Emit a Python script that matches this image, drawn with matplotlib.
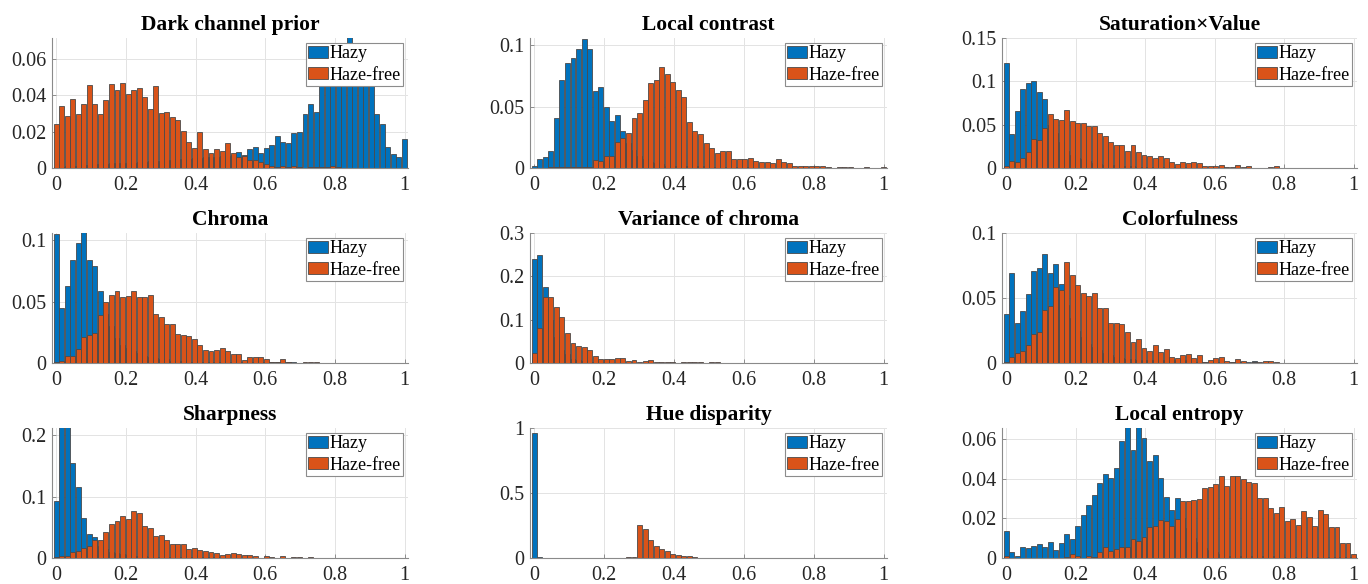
import numpy as np
import matplotlib
matplotlib.use('Agg')
from matplotlib import pyplot as plt
from matplotlib.ticker import FuncFormatter

plt.rcParams['font.family'] = ['Liberation Serif', 'DejaVu Serif']

blue = '#0072BD'
orange = '#D95319'

# normalised histograms (64 bins over [0, 1])
dcp_hazy = [
    0.0005, 0.0005, 0.001, 0.001, 0.001, 0.0015, 0.0015, 0.002, 0.002, 0.002, 0.0025, 0.0025, 0.003, 0.003, 0.003, 0.0035,
    0.0035, 0.004, 0.004, 0.004, 0.0045, 0.0045, 0.005, 0.005, 0.005, 0.0055, 0.0055, 0.006, 0.006, 0.006, 0.0065, 0.0065,
    0.007, 0.0087, 0.0072, 0.0105, 0.0115, 0.0085, 0.011, 0.0125, 0.0178, 0.0143, 0.014, 0.0195, 0.020, 0.030, 0.0355, 0.031,
    0.050, 0.055, 0.058, 0.062, 0.066, 0.072, 0.069, 0.064, 0.058, 0.050, 0.0295, 0.024, 0.0115, 0.0075, 0.006, 0.016,
]
dcp_free = [
    0.024, 0.034, 0.0285, 0.038, 0.030, 0.0355, 0.0455, 0.0355, 0.030, 0.0375, 0.046, 0.043, 0.047, 0.0405, 0.043, 0.044,
    0.039, 0.0325, 0.045, 0.0305, 0.031, 0.028, 0.0265, 0.0205, 0.0145, 0.011, 0.020, 0.0105, 0.0085, 0.0105, 0.0095, 0.014,
    0.008, 0.0062, 0.0068, 0.0045, 0.0045, 0.0035, 0.002, 0.001, 0.0008, 0.0012, 0.0005, 0.0012, 0.0003, 0.0, 0.0008, 0.0006,
    0.0004, 0.0008, 0.0012, 0.0003, 0.0002, 0.0002, 0.0002, 0.0002, 0.0002, 0.0002, 0.0002, 0.0002, 0.0002, 0.0002, 0.0002, 0.0002,
]

lc_hazy = [
    0.002, 0.007, 0.009, 0.014, 0.041, 0.072, 0.086, 0.090, 0.097, 0.105, 0.097, 0.063, 0.066, 0.050, 0.0385, 0.043,
    0.030, 0.020, 0.015, 0.010, 0.007, 0.005, 0.004, 0.003, 0.002, 0.002, 0.002, 0.002, 0.002, 0.002, 0.002, 0.002,
    0.001, 0.001, 0.001, 0.001, 0.001, 0.001, 0.001, 0.001, 0, 0, 0, 0, 0, 0, 0, 0,
    0, 0, 0, 0, 0, 0, 0, 0, 0, 0, 0, 0, 0, 0, 0, 0,
]
lc_free = [
    0.0003, 0.0003, 0.0003, 0.0005, 0.0005, 0.001, 0.001, 0.001, 0.001, 0.0012, 0.0012, 0.0065, 0.006, 0.0095, 0.0095, 0.021,
    0.0245, 0.0285, 0.041, 0.045, 0.0555, 0.069, 0.0715, 0.0825, 0.0765, 0.0705, 0.0635, 0.058, 0.0375, 0.030, 0.0275, 0.020,
    0.0165, 0.0125, 0.0135, 0.0135, 0.007, 0.0075, 0.0075, 0.0085, 0.006, 0.005, 0.005, 0.004, 0.0075, 0.0045, 0.004, 0.002,
    0.0015, 0.002, 0.0015, 0.0015, 0.0015, 0.0005, 0, 0.001, 0.001, 0.0005, 0, 0.0003, 0.0005, 0, 0, 0.0005,
]

sv_hazy = [
    0.121, 0.039, 0.066, 0.091, 0.098, 0.100, 0.088, 0.080, 0.050, 0.040, 0.030, 0.020, 0.015, 0.012, 0.010, 0.008,
    0.006, 0.005, 0.004, 0.003, 0.003, 0.002, 0.002, 0.002, 0.001, 0.001, 0.001, 0.001, 0.001, 0.001, 0.001, 0.001,
    0.001, 0.001, 0.0005, 0.0005, 0.0005, 0.0005, 0.0005, 0.0005, 0.0005, 0.0005, 0.0005, 0.0005, 0, 0, 0, 0,
    0, 0, 0, 0, 0, 0, 0, 0, 0, 0, 0, 0, 0, 0, 0, 0,
]
sv_free = [
    0.002, 0.008, 0.007, 0.011, 0.019, 0.033, 0.032, 0.046, 0.062, 0.056, 0.0555, 0.0665, 0.0545, 0.0525, 0.0525, 0.0485,
    0.0485, 0.040, 0.037, 0.030, 0.026, 0.026, 0.0195, 0.027, 0.0185, 0.015, 0.0135, 0.0115, 0.0135, 0.012, 0.0065, 0.0045,
    0.0065, 0.006, 0.0065, 0.0055, 0.0025, 0.0025, 0.0025, 0.0035, 0.001, 0.0015, 0.004, 0.0015, 0.002, 0.0005, 0, 0,
    0.0015, 0.002, 0, 0, 0, 0.0005, 0, 0.0005, 0, 0, 0, 0.0005, 0, 0, 0, 0,
]

chroma_hazy = [
    0.105, 0.045, 0.0625, 0.084, 0.0975, 0.110, 0.084, 0.0795, 0.059, 0.040, 0.030, 0.020, 0.015, 0.012, 0.010, 0.008,
    0.006, 0.005, 0.004, 0.003, 0.003, 0.002, 0.002, 0.002, 0.001, 0.001, 0.001, 0.001, 0.001, 0.001, 0.001, 0.001,
    0.001, 0.001, 0.0005, 0.0005, 0.0005, 0.0005, 0.0005, 0.0005, 0.0005, 0.0005, 0.0005, 0.0005, 0, 0, 0, 0,
    0, 0, 0, 0, 0, 0, 0, 0, 0, 0, 0, 0, 0, 0, 0, 0,
]
chroma_free = [
    0.001, 0.002, 0.006, 0.006, 0.0115, 0.0215, 0.0225, 0.0245, 0.0395, 0.050, 0.0555, 0.059, 0.0535, 0.0545, 0.059, 0.054,
    0.054, 0.0555, 0.040, 0.0375, 0.032, 0.032, 0.0235, 0.023, 0.022, 0.0195, 0.0145, 0.0105, 0.010, 0.0105, 0.0125, 0.0095,
    0.0075, 0.0075, 0.0025, 0.0045, 0.0045, 0.0045, 0.0035, 0.001, 0.001, 0.003, 0.0008, 0.0003, 0, 0.001, 0.0005, 0.0008,
    0.0003, 0.0003, 0.0003, 0, 0, 0, 0.0002, 0.0002, 0, 0, 0, 0, 0, 0.0002, 0, 0.0002,
]

varc_hazy = [
    0.239, 0.250, 0.175, 0.100, 0.060, 0.030, 0.020, 0.010, 0.006, 0.004, 0.003, 0.002, 0.001, 0.001, 0.001, 0.001,
    0, 0, 0, 0, 0, 0, 0, 0, 0, 0, 0, 0, 0, 0, 0, 0,
    0, 0, 0, 0, 0, 0, 0, 0, 0, 0, 0, 0, 0, 0, 0, 0,
    0, 0, 0, 0, 0, 0, 0, 0, 0, 0, 0, 0, 0, 0, 0, 0,
]
varc_free = [
    0.022, 0.080, 0.153, 0.153, 0.129, 0.106, 0.070, 0.046, 0.040, 0.036, 0.029, 0.016, 0.0095, 0.0085, 0.0085, 0.011,
    0.0125, 0.0055, 0.0065, 0.003, 0.005, 0.0065, 0.002, 0.003, 0.003, 0.002, 0, 0.003, 0.002, 0.002, 0.0015, 0,
    0.003, 0.003, 0.001, 0, 0, 0.0008, 0, 0, 0, 0, 0, 0, 0, 0, 0, 0,
    0, 0, 0, 0, 0, 0, 0, 0, 0, 0, 0, 0, 0, 0, 0, 0,
]

color_hazy = [
    0.038, 0.069, 0.031, 0.040, 0.053, 0.071, 0.073, 0.084, 0.069, 0.076, 0.061, 0.045, 0.035, 0.025, 0.020, 0.015,
    0.012, 0.010, 0.008, 0.006, 0.005, 0.004, 0.003, 0.003, 0.002, 0.002, 0.002, 0.002, 0.002, 0.002, 0.002, 0.002,
    0.002, 0.002, 0.001, 0.001, 0.001, 0.001, 0.001, 0.001, 0.001, 0.001, 0.001, 0.001, 0.0005, 0.0015, 0, 0,
    0, 0, 0, 0, 0, 0, 0, 0, 0, 0, 0, 0, 0, 0, 0, 0,
]
color_free = [
    0.0005, 0.0045, 0.008, 0.009, 0.0135, 0.0225, 0.0235, 0.041, 0.044, 0.0585, 0.056, 0.078, 0.068, 0.060, 0.054, 0.0515,
    0.054, 0.0425, 0.042, 0.0305, 0.031, 0.030, 0.0235, 0.016, 0.0185, 0.0115, 0.0095, 0.014, 0.0085, 0.011, 0.0045, 0.0035,
    0.0065, 0.007, 0.0035, 0.0065, 0.0005, 0.0025, 0.0035, 0.0045, 0.0015, 0.0005, 0.003, 0.0015, 0, 0.0005, 0.001, 0.0015,
    0.0015, 0.0005, 0.0003, 0.0003, 0.0003, 0.0003, 0.0003, 0.0003, 0.0003, 0, 0, 0, 0, 0, 0, 0.0003,
]

sharp_hazy = [
    0.0935, 0.240, 0.230, 0.155, 0.116, 0.066, 0.039, 0.035, 0.020, 0.015, 0.010, 0.008, 0.006, 0.005, 0.004, 0.003,
    0.003, 0.002, 0.002, 0.002, 0.001, 0.001, 0.001, 0.001, 0.001, 0.001, 0.001, 0.001, 0.001, 0.001, 0.0005, 0.0005,
    0.0005, 0.0005, 0.0005, 0.0005, 0.0005, 0.0005, 0.0005, 0.0005, 0, 0, 0, 0, 0, 0, 0, 0,
    0, 0, 0, 0, 0, 0, 0, 0, 0, 0, 0, 0, 0, 0, 0, 0,
]
sharp_free = [
    0.001, 0.003, 0.003, 0.009, 0.011, 0.017, 0.020, 0.029, 0.029, 0.043, 0.055, 0.061, 0.069, 0.063, 0.077, 0.073,
    0.053, 0.049, 0.036, 0.038, 0.030, 0.0235, 0.023, 0.023, 0.014, 0.0155, 0.0125, 0.011, 0.0095, 0.008, 0.0055, 0.007,
    0.0075, 0.007, 0.0045, 0.0045, 0.0035, 0.0005, 0.0035, 0.002, 0.0005, 0.003, 0.0005, 0.0015, 0.0015, 0.0005, 0.0015, 0.0003,
    0.0003, 0.0003, 0, 0, 0, 0, 0, 0, 0, 0, 0, 0, 0, 0, 0, 0,
]

hue_hazy = [
    0.965, 0.010, 0.003, 0, 0, 0, 0, 0, 0, 0, 0, 0, 0, 0, 0, 0,
    0, 0, 0, 0, 0, 0, 0, 0, 0, 0, 0, 0, 0, 0, 0, 0,
    0.002, 0.002, 0, 0, 0, 0, 0, 0, 0, 0, 0, 0, 0, 0, 0, 0,
    0, 0, 0, 0, 0, 0, 0, 0, 0, 0, 0, 0, 0, 0, 0, 0,
]
hue_free = [
    0, 0, 0, 0, 0, 0, 0, 0, 0, 0, 0, 0, 0, 0, 0, 0,
    0, 0.005, 0.010, 0.255, 0.220, 0.135, 0.090, 0.073, 0.052, 0.027, 0.024, 0.018, 0.012, 0.009, 0.003, 0.002,
    0.001, 0.001, 0, 0, 0, 0, 0, 0, 0, 0, 0, 0, 0, 0, 0, 0,
    0, 0, 0, 0, 0, 0, 0, 0, 0, 0, 0, 0, 0, 0, 0, 0,
]

ent_hazy = [
    0.0135, 0.003, 0.001, 0.0055, 0.005, 0.006, 0.007, 0.0055, 0.008, 0.004, 0.0075, 0.012, 0.0098, 0.016, 0.0215, 0.0265,
    0.032, 0.038, 0.0425, 0.0405, 0.0455, 0.059, 0.067, 0.0545, 0.067, 0.0605, 0.049, 0.052, 0.0405, 0.031, 0.024, 0.0305,
    0.020, 0.015, 0.010, 0.008, 0.005, 0.004, 0.003, 0.002, 0.001, 0.001, 0.001, 0.001, 0.001, 0.001, 0.001, 0.001,
    0.001, 0.001, 0.0005, 0.0005, 0.0005, 0.0005, 0.0005, 0.0005, 0.0005, 0.0005, 0.0005, 0.0005, 0.0005, 0.0005, 0.0005, 0.0005,
]
ent_free = [
    0.001, 0, 0, 0, 0, 0, 0, 0, 0, 0, 0, 0.0005, 0.0018, 0.0008, 0, 0.0008,
    0.0003, 0.003, 0.0058, 0.0035, 0.0045, 0.0058, 0.0058, 0.0098, 0.0088, 0.0105, 0.0155, 0.016, 0.019, 0.0185, 0.016, 0.0195,
    0.029, 0.029, 0.0295, 0.030, 0.0355, 0.036, 0.0375, 0.0415, 0.0365, 0.0415, 0.0415, 0.040, 0.0385, 0.038, 0.0305, 0.0305,
    0.025, 0.0225, 0.0255, 0.0185, 0.0195, 0.0165, 0.0235, 0.0205, 0.016, 0.024, 0.022, 0.0155, 0.0155, 0.0075, 0.0075, 0.002,
]

titles = ['Dark channel prior', 'Local contrast', 'Saturation×Value',
          'Chroma', 'Variance of chroma', 'Colorfulness',
          'Sharpness', 'Hue disparity', 'Local entropy']
hazy_data = [dcp_hazy, lc_hazy, sv_hazy, chroma_hazy, varc_hazy, color_hazy, sharp_hazy, hue_hazy, ent_hazy]
free_data = [dcp_free, lc_free, sv_free, chroma_free, varc_free, color_free, sharp_free, hue_free, ent_free]
y_tops = [0.0716, 0.106, 0.15, 0.106, 0.3, 0.1, 0.212, 1.0, 0.0656]
y_ticks = [
    [0, 0.02, 0.04, 0.06], [0, 0.05, 0.1], [0, 0.05, 0.1, 0.15],
    [0, 0.05, 0.1], [0, 0.1, 0.2, 0.3], [0, 0.05, 0.1],
    [0, 0.1, 0.2], [0, 0.5, 1], [0, 0.02, 0.04, 0.06],
]

fig = plt.figure(figsize=(13.68, 5.84), dpi=100)
lefts = [52 / 1368, 530 / 1368, 1002 / 1368]
widths = [356 / 1368, 357 / 1368, 355 / 1368]
bottoms = [1 - 168 / 584, 1 - 363 / 584, 1 - 558 / 584]
height = 130 / 584

for i, title in enumerate(titles):
    r, c = divmod(i, 3)
    ax = fig.add_axes([lefts[c], bottoms[r], widths[c], height])
    for vals, color, label, z in [(hazy_data[i], blue, 'Hazy', 2), (free_data[i], orange, 'Haze-free', 3)]:
        x = np.linspace(0, 1, len(vals))
        w = x[1] - x[0]
        ax.bar(x, vals, width=w * 0.9, color=color, edgecolor='#4a4a4a',
               linewidth=0.6, label=label, zorder=z)
    ax.set_xlim(-0.012, 1.01)
    ax.set_ylim(0, y_tops[i])
    ax.set_xticks([0, 0.2, 0.4, 0.6, 0.8, 1])
    ax.set_yticks(y_ticks[i])
    ax.xaxis.set_major_formatter(FuncFormatter(lambda v, p: f'{v:g}'))
    ax.yaxis.set_major_formatter(FuncFormatter(lambda v, p: f'{v:g}'))
    ax.tick_params(direction='in', length=3, width=0.6, color='#808080',
                   labelsize=14.5, labelcolor='#262626')
    ax.tick_params(axis='x', pad=6)
    ax.tick_params(axis='y', pad=4)
    ax.grid(True, color='#e3e3e3', linewidth=0.7)
    ax.set_axisbelow(True)
    for side in ['top', 'right']:
        ax.spines[side].set_visible(False)
    for side in ['left', 'bottom']:
        ax.spines[side].set_color('#8a8a8a')
        ax.spines[side].set_linewidth(0.8)
    ax.set_title(title, fontsize=15.5, fontweight='bold', pad=6)
    leg = ax.legend(loc='upper right', fontsize=13, fancybox=False, framealpha=1,
                    edgecolor='#8c8c8c', borderpad=0.15, handlelength=1.1,
                    handleheight=0.65, handletextpad=0.08, labelspacing=0.25,
                    borderaxespad=0.25)
    leg.get_frame().set_linewidth(0.8)

fig.savefig('out.png', dpi=100)
